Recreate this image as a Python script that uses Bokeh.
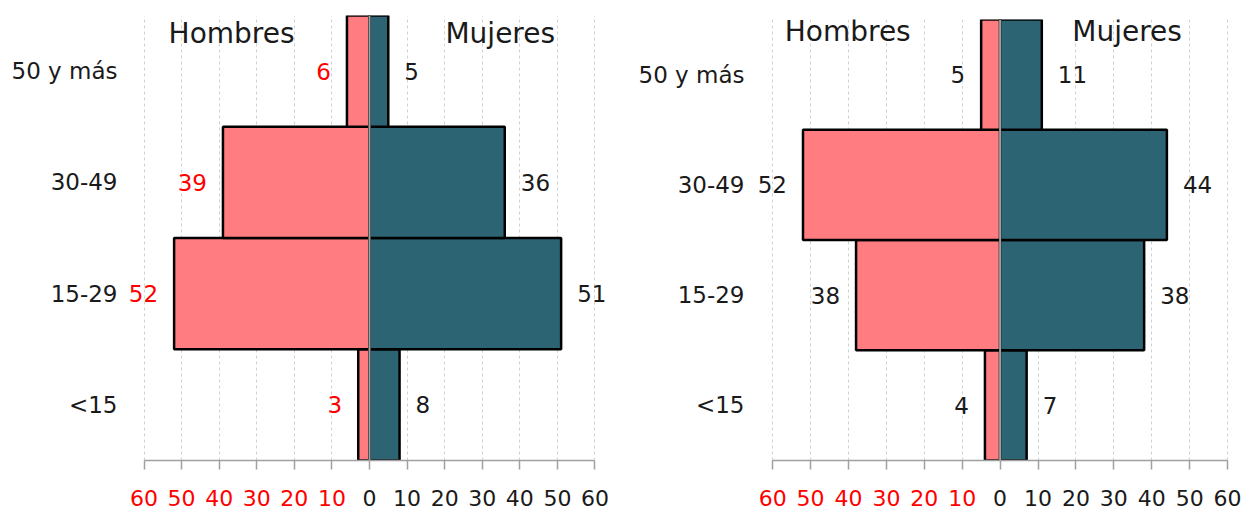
from bokeh.plotting import figure
from bokeh.models import Range1d, FactorRange, LabelSet, Label, Span, ColumnDataSource, FixedTicker
from bokeh.layouts import row, column
from bokeh.embed import file_html
from bokeh.resources import INLINE
from bokeh.core.properties import value

# ---- data ----
age_groups = ["<15", "15-29", "30-49", "50 y más"]
left_hombres = [3, 52, 39, 6]
left_mujeres = [8, 51, 36, 5]
right_hombres = [4, 38, 52, 5]
right_mujeres = [7, 38, 44, 11]
tick_values = [-60, -50, -40, -30, -20, -10, 0, 10, 20, 30, 40, 50, 60]
tick_labels = ["60", "50", "40", "30", "20", "10", "0", "10", "20", "30", "40", "50", "60"]
side_titles = ["Hombres", "Mujeres"]

FONT = "DejaVu Sans"
PINK = "#FF7C80"
TEAL = "#2C6474"
RED = "#FF0000"
DARK = "#1a1a1a"
AXIS_GRAY = "#a0a0a0"
MAIN_H = 480
STRIP_H = 30
AXIS_Y = 460


def make_panel(hombres, mujeres, men_label_color, width, b_left, frame_w, b_top,
               x_start, x_end, y_standoff, hombres_x, mujeres_x, title_base):
    frame_h = AXIS_Y - b_top
    b_bottom = MAIN_H - b_top - frame_h
    b_right = width - b_left - frame_w
    xr = Range1d(x_start, x_end)
    p = figure(width=width, height=MAIN_H, output_backend="svg", toolbar_location=None,
               x_range=xr, y_range=FactorRange(factors=age_groups),
               min_border_left=b_left, min_border_right=b_right,
               min_border_top=b_top, min_border_bottom=b_bottom)
    p.outline_line_color = None
    p.background_fill_color = "white"

    src = ColumnDataSource(dict(
        y=age_groups,
        men_left=[-v for v in hombres],
        women_right=mujeres,
        men_text=[str(v) for v in hombres],
        women_text=[str(v) for v in mujeres],
    ))
    p.hbar(y="y", left="men_left", right=0, height=1.0, source=src,
           fill_color=PINK, line_color="black", line_width=2.5)
    p.hbar(y="y", left=0, right="women_right", height=1.0, source=src,
           fill_color=TEAL, line_color="black", line_width=2.5)

    p.add_layout(Span(location=0, dimension="height", line_color=AXIS_GRAY, line_width=2))

    p.add_layout(LabelSet(x="men_left", y="y", text="men_text", source=src,
                          x_offset=-16, text_align="right", text_baseline="middle",
                          text_font=value(FONT), text_font_size=value("23px"),
                          text_color=men_label_color))
    p.add_layout(LabelSet(x="women_right", y="y", text="women_text", source=src,
                          x_offset=16, text_align="left", text_baseline="middle",
                          text_font=value(FONT), text_font_size=value("23px"),
                          text_color=DARK))

    # side titles
    for txt, xx in zip(side_titles, [hombres_x, mujeres_x]):
        p.add_layout(Label(x=xx, y=frame_h - title_base, y_units="screen", text=txt,
                           text_align="center", text_baseline="middle",
                           text_font=FONT, text_font_size="28px", text_color=DARK))

    # x axis: line and ticks only (labels drawn in the strip below)
    ax = p.xaxis[0]
    ax.ticker = FixedTicker(ticks=tick_values)
    ax.bounds = (-60, 60)
    ax.axis_line_color = AXIS_GRAY
    ax.axis_line_width = 1.5
    ax.major_tick_line_color = AXIS_GRAY
    ax.major_tick_line_width = 1.5
    ax.major_tick_out = 9
    ax.major_tick_in = 0
    ax.minor_tick_line_color = None
    ax.major_label_standoff = 0
    ax.major_label_text_font_size = "1px"
    ax.major_label_text_alpha = 0

    # grid
    p.xgrid.grid_line_color = "#d0d0d0"
    p.xgrid.grid_line_dash = "3 3"
    p.xgrid.grid_line_width = 1
    p.xgrid.bounds = (-60, 60)
    p.ygrid.grid_line_color = None

    # y axis
    p.yaxis.axis_line_color = None
    p.yaxis.major_tick_line_color = None
    p.yaxis.minor_tick_line_color = None
    p.yaxis.major_label_standoff = y_standoff
    p.yaxis.major_label_text_font = FONT
    p.yaxis.major_label_text_font_size = "23px"
    p.yaxis.major_label_text_color = DARK

    # strip with the x tick labels (shares the x range)
    s = figure(width=width, height=STRIP_H, output_backend="svg", toolbar_location=None,
               x_range=xr, y_range=Range1d(0, STRIP_H),
               x_axis_location=None, y_axis_location=None,
               min_border_left=b_left, min_border_right=b_right,
               min_border_top=0, min_border_bottom=0)
    s.outline_line_color = None
    s.grid.visible = False
    neg_x = [t for t in tick_values if t < 0]
    neg_t = [lab for t, lab in zip(tick_values, tick_labels) if t < 0]
    pos_x = [t for t in tick_values if t >= 0]
    pos_t = [lab for t, lab in zip(tick_values, tick_labels) if t >= 0]
    for xs, ts, col in [(neg_x, neg_t, RED), (pos_x, pos_t, DARK)]:
        s.text(x=xs, y=13, text=ts, text_align="center", text_baseline="middle",
               text_font=value(FONT), text_font_size=value("22px"), text_color=col)
    return column(p, s)


p1 = make_panel(left_hombres, left_mujeres, RED, width=628, b_left=121, frame_w=496, b_top=15,
                x_start=-66, x_end=66, y_standoff=-2,
                hombres_x=-36.7, mujeres_x=34.8, title_base=18)
p2 = make_panel(right_hombres, right_mujeres, DARK, width=624, b_left=129, frame_w=489, b_top=19,
                x_start=-64, x_end=65, y_standoff=7,
                hombres_x=-40.2, mujeres_x=33.5, title_base=12)

layout = row(p1, p2)
open("out.html", "w").write(file_html(layout, INLINE))
